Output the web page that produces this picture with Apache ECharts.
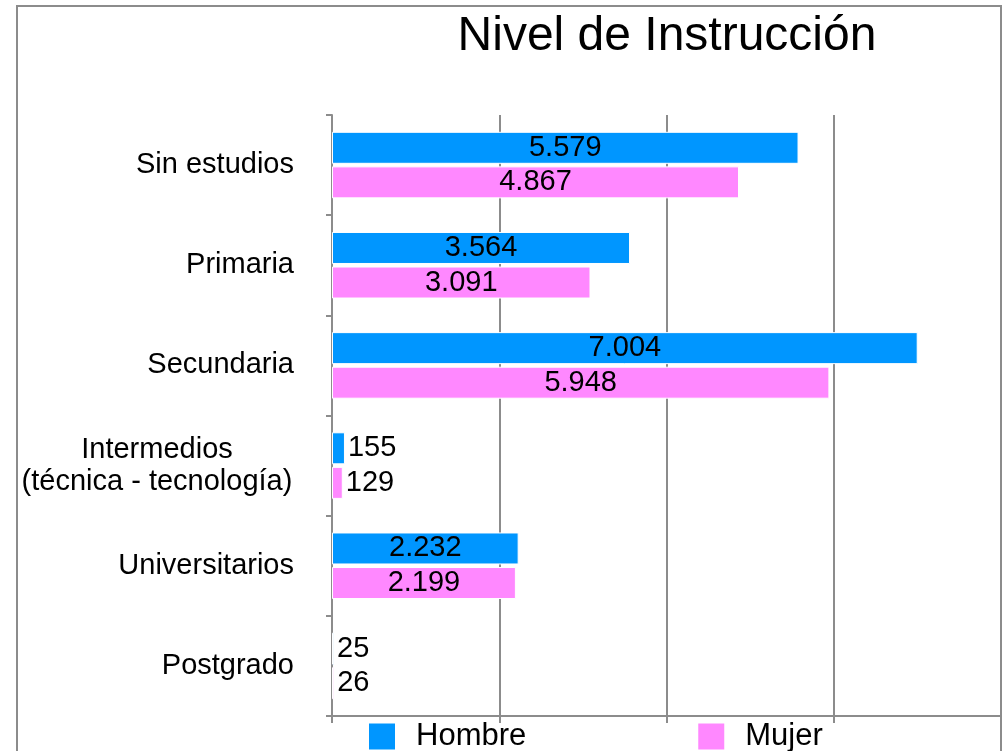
<!DOCTYPE html>
<html>
<head>
<meta charset="utf-8">
<script src="https://cdn.jsdelivr.net/npm/echarts@6/dist/echarts.min.js"></script>
<style>
html,body{margin:0;padding:0;background:#fff;}
#chart{width:1006px;height:751px;}
</style>
</head>
<body>
<div id="chart"></div>
<script>
const titleText = 'Nivel de Instrucción';
const categories = ['Sin estudios', 'Primaria', 'Secundaria', 'Intermedios\n(técnica - tecnología)', 'Universitarios', 'Postgrado'];
const seriesNames = ['Hombre', 'Mujer'];
const hombre = [5579, 3564, 7004, 155, 2232, 25];
const mujer = [4867, 3091, 5948, 129, 2199, 26];
const xMin = 0, xMax = 8000, xInterval = 2000;

const FONT = '"Liberation Sans", Arial, sans-serif';
const grey = '#8c8c8c';

function fmt(v) {
  return String(v).replace(/\B(?=(\d{3})+(?!\d))/g, '.');
}
function makeData(arr) {
  return arr.map(v => ({
    value: v,
    label: v < 1000 ? { position: 'right', distance: 3 } : { position: 'inside' }
  }));
}

const chart = echarts.init(document.getElementById('chart'), null, { renderer: 'canvas' });
chart.setOption({
  animation: false,
  backgroundColor: '#fff',
  textStyle: { fontFamily: FONT },
  title: {
    text: titleText,
    left: 667,
    textAlign: 'center',
    top: 13,
    padding: 0,
    textStyle: { fontFamily: FONT, fontSize: 48, fontWeight: 'normal', color: '#000' }
  },
  graphic: [{
    type: 'rect',
    shape: { x: 17, y: 6, width: 984, height: 800 },
    style: { fill: 'none', stroke: grey, lineWidth: 2 },
    z: -1
  }],
  legend: {
    data: seriesNames,
    left: 367,
    top: 721,
    padding: 0,
    itemWidth: 28,
    itemHeight: 28,
    itemGap: 170,
    icon: 'rect',
    textStyle: { fontFamily: FONT, fontSize: 31, color: '#000', padding: [0, 0, 0, 15] }
  },
  grid: { left: 332, right: 5, top: 115, bottom: 35, containLabel: false },
  xAxis: {
    type: 'value',
    min: xMin, max: xMax, interval: xInterval,
    axisLine: { show: true, lineStyle: { color: grey, width: 2 } },
    axisTick: { show: true, length: 7, lineStyle: { color: grey, width: 2 } },
    axisLabel: { show: false },
    splitLine: { show: true, lineStyle: { color: grey, width: 2 } }
  },
  yAxis: {
    type: 'category',
    data: categories,
    inverse: true,
    axisLine: { show: true, lineStyle: { color: grey, width: 2 } },
    axisTick: { show: true, length: 6, lineStyle: { color: grey, width: 2 } },
    axisLabel: {
      margin: 38,
      fontFamily: FONT,
      fontSize: 29,
      color: '#000',
      formatter: function (v) {
        if (v.indexOf('\n') >= 0) {
          return v.split('\n').map(s => '{m|' + s + '}').join('\n');
        }
        return v;
      },
      rich: {
        m: { fontFamily: FONT, fontSize: 29, color: '#000', width: 274, align: 'center', lineHeight: 32 }
      }
    },
    splitLine: { show: false }
  },
  series: [
    {
      name: seriesNames[0],
      type: 'bar',
      data: makeData(hombre),
      barWidth: 32,
      barGap: '8%',
      itemStyle: { color: '#0096ff', borderColor: '#ffffff', borderWidth: 1 },
      label: { show: true, fontFamily: FONT, fontSize: 29, color: '#000', formatter: p => fmt(p.value) }
    },
    {
      name: seriesNames[1],
      type: 'bar',
      data: makeData(mujer),
      barWidth: 32,
      barGap: '8%',
      itemStyle: { color: '#ff88ff', borderColor: '#ffffff', borderWidth: 1 },
      label: { show: true, fontFamily: FONT, fontSize: 29, color: '#000', formatter: p => fmt(p.value) }
    }
  ]
});
</script>
</body>
</html>
